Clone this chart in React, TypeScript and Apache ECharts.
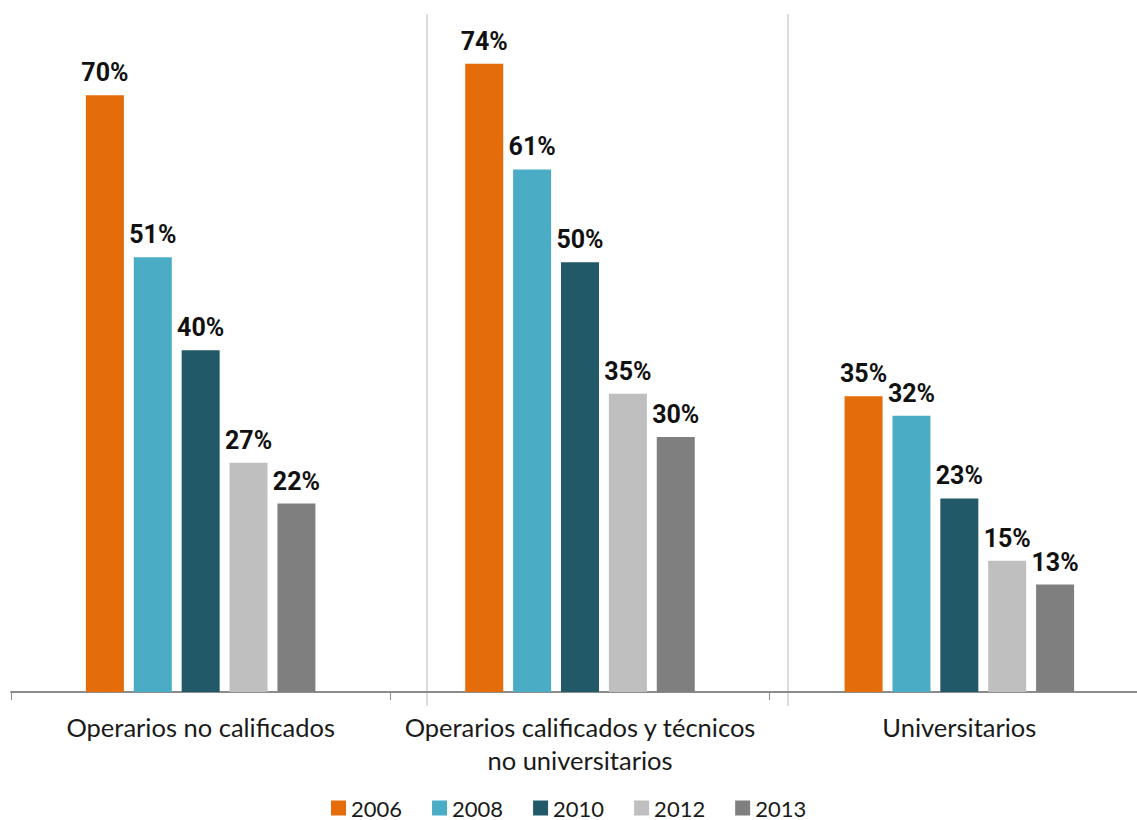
import React, { useEffect, useRef } from "react";
import * as echarts from "echarts";

const categories = [
  "Operarios no calificados",
  "Operarios calificados y técnicos\nno universitarios",
  "Universitarios",
];
const seriesNames = ["2006", "2008", "2010", "2012", "2013"];
const values2006 = [70.0, 73.7, 34.7];
const values2008 = [51.0, 61.3, 32.4];
const values2010 = [40.1, 50.4, 22.7];
const values2012 = [26.9, 35.0, 15.4];
const values2013 = [22.1, 29.9, 12.6];
const colors = ["#E46C0A", "#4BACC6", "#215968", "#BFBFBF", "#7F7F7F"];

export default function App() {
  const ref = useRef<HTMLDivElement>(null);
  useEffect(() => {
    document.body.style.margin = "0";
    document.body.style.overflow = "hidden";
    const chart = echarts.init(ref.current!, null, { renderer: "svg" });
    const data = [values2006, values2008, values2010, values2012, values2013];
    chart.setOption({
      animation: false,
      color: colors,
      grid: { left: 11, top: 10, right: 0, height: 682, containLabel: false },
      legend: {
        data: seriesNames,
        left: 331,
        top: 794,
        padding: 0,
        itemWidth: 15,
        itemHeight: 15,
        itemGap: 30,
        icon: "rect",
        textStyle: { fontFamily: "Lato", fontSize: 22, lineHeight: 28, color: "#1a1a1a" },
      },
      xAxis: {
        type: "category",
        data: categories,
        axisLine: { lineStyle: { color: "#8c8c8c", width: 2 } },
        axisTick: { show: true, length: 8, lineStyle: { color: "#8c8c8c", width: 1 } },
        axisLabel: {
          interval: 0,
          hideOverlap: false,
          fontFamily: "Lato",
          fontSize: 25.5,
          color: "#1a1a1a",
          margin: 18,
          lineHeight: 33,
        },
      },
      yAxis: {
        type: "value",
        min: 0,
        max: 80,
        show: false,
        splitLine: { show: false },
      },
      graphic: [
        { type: "line", shape: { x1: 427, y1: 14, x2: 427, y2: 706 }, style: { stroke: "#d0d0d0", lineWidth: 1.5 }, z: 0 },
        { type: "line", shape: { x1: 788, y1: 14, x2: 788, y2: 706 }, style: { stroke: "#d0d0d0", lineWidth: 1.5 }, z: 0 },
      ],
      series: seriesNames.map((name, i) => ({
        name,
        type: "bar",
        data: data[i],
        barWidth: 38,
        barGap: "26%",
        label: {
          show: true,
          position: "top",
          distance: 10,
          formatter: (p: any) => Math.round(p.value) + "%",
          fontFamily: "Roboto",
          fontWeight: "bold",
          fontSize: 25,
          color: "#111",
        },
      })),
    });
    return () => chart.dispose();
  }, []);
  return <div ref={ref} style={{ width: 1149, height: 820 }} />;
}
